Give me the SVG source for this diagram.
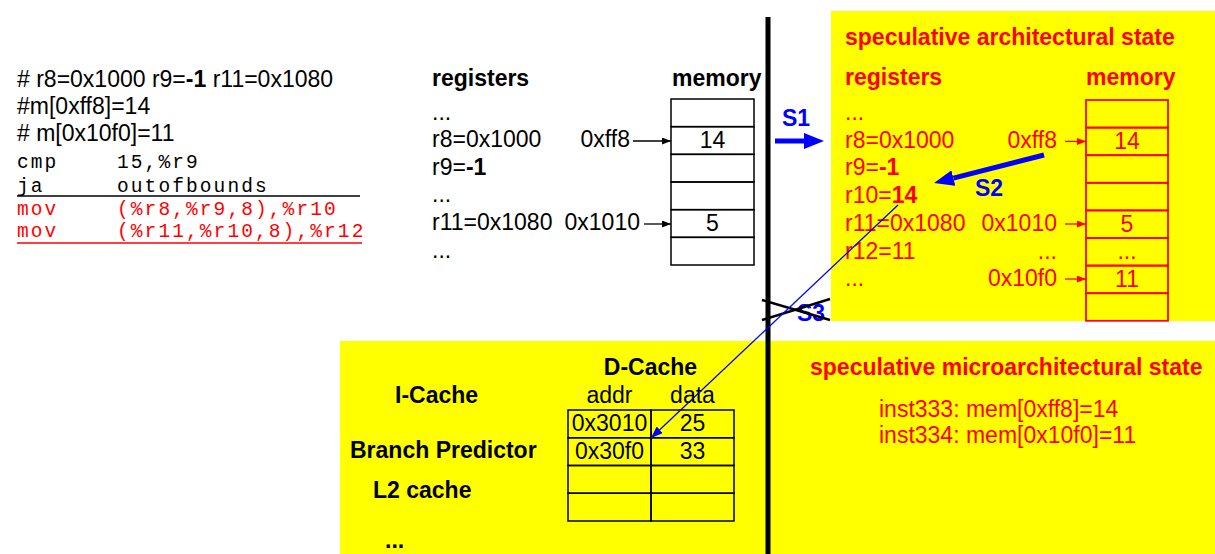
<svg xmlns="http://www.w3.org/2000/svg" width="1215" height="554" viewBox="0 0 1215 554">
<style>
text{font-family:"Liberation Sans",Arial,sans-serif;font-size:23px;fill:#000}
.b{font-weight:bold}
.r{fill:#ff0000}
.bl{fill:#0000ff;font-weight:bold}
.m{font-family:"Liberation Mono","Courier New",monospace;font-size:19.5px;letter-spacing:2.1px}
.c{text-anchor:middle}
.e{text-anchor:end}
.cellk{fill:none;stroke:#000;stroke-width:1.5}
.cellr{fill:none;stroke:#ff0000;stroke-width:1.8}
.ak{stroke:#000;stroke-width:1.3;fill:none}
.ar{stroke:#ff0000;stroke-width:1.3;fill:none}
</style>
<defs>
<marker id="hk" markerUnits="userSpaceOnUse" markerWidth="9" markerHeight="7" refX="9" refY="3.5" orient="auto"><path d="M0,0L9,3.5L0,7z" fill="#000"/></marker>
<marker id="hr" markerUnits="userSpaceOnUse" markerWidth="9" markerHeight="7" refX="9" refY="3.5" orient="auto"><path d="M0,0L9,3.5L0,7z" fill="#ff0000"/></marker>
<marker id="hb" markerUnits="userSpaceOnUse" markerWidth="20" markerHeight="16" refX="0" refY="8" orient="auto"><path d="M0,0L20,8L0,16z" fill="#0000ff"/></marker>
<marker id="hs" markerUnits="userSpaceOnUse" markerWidth="12" markerHeight="9" refX="12" refY="4.5" orient="auto"><path d="M0,0L12,4.5L0,9z" fill="#0000ff"/></marker>
</defs>
<rect width="1215" height="554" fill="#fff"/>
<rect id="bg-arch" x="831" y="11" width="384" height="310" fill="#ffff00"/>
<rect id="bg-micro" x="340" y="341" width="875" height="213" fill="#ffff00"/>

<g id="code">
<text x="17" y="87"># r8=0x1000 r9=<tspan class="b">-1</tspan> r11=0x1080</text>
<text x="17" y="114">#m[0xff8]=14</text>
<text x="17" y="141"># m[0x10f0]=11</text>
<text class="m" x="17" y="168">cmp</text><text class="m" x="117" y="168">15,%r9</text>
<text class="m" x="17" y="192">ja</text><text class="m" x="117" y="192">outofbounds</text>
<line x1="17" y1="196" x2="360" y2="196" stroke="#000" stroke-width="1.5"/>
<text class="m r" x="17" y="215">mov</text><text class="m r" x="117" y="215">(%r8,%r9,8),%r10</text>
<text class="m r" x="17" y="237">mov</text><text class="m r" x="117" y="237">(%r11,%r10,8),%r12</text>
<line x1="17" y1="243" x2="362" y2="243" stroke="#ff0000" stroke-width="1.5"/>
</g>

<g id="arch-state">
<text class="b" x="432" y="86">registers</text>
<text class="b" x="672" y="86">memory</text>
<text x="432" y="120">...</text>
<text x="432" y="147">r8=0x1000</text>
<text x="432" y="175">r9=<tspan class="b">-1</tspan></text>
<text x="432" y="202">...</text>
<text x="432" y="230">r11=0x1080</text>
<text x="432" y="258">...</text>
<text class="e" x="630" y="147">0xff8</text>
<text class="e" x="640" y="230">0x1010</text>
<rect class="cellk" x="671" y="99" width="83" height="27.67"/>
<rect class="cellk" x="671" y="126.67" width="83" height="27.67"/>
<rect class="cellk" x="671" y="154.33" width="83" height="27.67"/>
<rect class="cellk" x="671" y="182" width="83" height="27.67"/>
<rect class="cellk" x="671" y="209.67" width="83" height="27.67"/>
<rect class="cellk" x="671" y="237.33" width="83" height="27.67"/>
<text class="c" x="712.5" y="148">14</text>
<text class="c" x="712.5" y="231">5</text>
</g>

<g id="spec-arch-state">
<text class="b r" x="845" y="45">speculative architectural state</text>
<text class="b r" x="845" y="85">registers</text>
<text class="b r" x="1086" y="85">memory</text>
<text class="r" x="845" y="120">...</text>
<text class="r" x="845" y="148">r8=0x1000</text>
<text class="r" x="845" y="175">r9=<tspan class="b">-1</tspan></text>
<text class="r" x="845" y="203">r10=<tspan class="b">14</tspan></text>
<text class="r" x="845" y="231">r11=0x1080</text>
<text class="r" x="845" y="259">r12=11</text>
<text class="r" x="845" y="286">...</text>
<text class="r e" x="1057" y="148">0xff8</text>
<text class="r e" x="1057" y="231">0x1010</text>
<text class="r e" x="1057" y="259">...</text>
<text class="r e" x="1057" y="286">0x10f0</text>
<rect class="cellr" x="1086" y="100" width="82" height="27.6"/>
<rect class="cellr" x="1086" y="127.6" width="82" height="27.6"/>
<rect class="cellr" x="1086" y="155.2" width="82" height="27.6"/>
<rect class="cellr" x="1086" y="182.8" width="82" height="27.6"/>
<rect class="cellr" x="1086" y="210.4" width="82" height="27.6"/>
<rect class="cellr" x="1086" y="238" width="82" height="27.6"/>
<rect class="cellr" x="1086" y="265.6" width="82" height="27.6"/>
<rect class="cellr" x="1086" y="293.2" width="82" height="27.6"/>
<text class="r c" x="1127" y="149">14</text>
<text class="r c" x="1127" y="232">5</text>
<text class="r c" x="1127" y="259">...</text>
<text class="r c" x="1127" y="287">11</text>
</g>

<g id="cache-state">
<text class="b c" x="650.5" y="375">D-Cache</text>
<text class="c" x="609.5" y="403">addr</text>
<text class="c" x="692.5" y="403">data</text>
<rect class="cellk" x="568" y="410" width="83" height="27.75"/>
<rect class="cellk" x="651" y="410" width="83" height="27.75"/>
<rect class="cellk" x="568" y="437.75" width="83" height="27.75"/>
<rect class="cellk" x="651" y="437.75" width="83" height="27.75"/>
<rect class="cellk" x="568" y="465.5" width="83" height="27.75"/>
<rect class="cellk" x="651" y="465.5" width="83" height="27.75"/>
<rect class="cellk" x="568" y="493.25" width="83" height="27.75"/>
<rect class="cellk" x="651" y="493.25" width="83" height="27.75"/>
<text class="c" x="609.5" y="431">0x3010</text>
<text class="c" x="692.5" y="431">25</text>
<text class="c" x="609.5" y="459">0x30f0</text>
<text class="c" x="692.5" y="459">33</text>
<text class="b" x="395" y="403">I-Cache</text>
<text class="b" x="350" y="458">Branch Predictor</text>
<text class="b" x="373" y="498">L2 cache</text>
<text class="b" x="385" y="548">...</text>
</g>

<g id="spec-micro-state">
<text class="b r" x="810" y="375">speculative microarchitectural state</text>
<text class="r" x="879" y="417">inst333: mem[0xff8]=14</text>
<text class="r" x="879" y="443">inst334: mem[0x10f0]=11</text>
</g>

<g id="divider">
<line x1="768" y1="17" x2="768" y2="554" stroke="#000" stroke-width="5"/>
</g>

<g id="connectors">
<line class="ak" x1="633" y1="141" x2="671" y2="141" marker-end="url(#hk)"/>
<line class="ak" x1="644" y1="224" x2="671" y2="224" marker-end="url(#hk)"/>
<line class="ar" x1="1065" y1="141.4" x2="1086" y2="141.4" marker-end="url(#hr)"/>
<line class="ar" x1="1065" y1="224" x2="1086" y2="224" marker-end="url(#hr)"/>
<line class="ar" x1="1065" y1="279" x2="1086" y2="279" marker-end="url(#hr)"/>
<text class="bl" x="782" y="126">S1</text>
<line x1="775" y1="141" x2="804" y2="141" stroke="#0000ff" stroke-width="5" marker-end="url(#hb)"/>
<text class="bl" x="975" y="196">S2</text>
<line x1="1044" y1="155" x2="953.4" y2="178.1" stroke="#0000ff" stroke-width="5" marker-end="url(#hb)"/>
<text class="bl" x="797" y="321">S3</text>
<line x1="762" y1="300" x2="830" y2="320" stroke="#000" stroke-width="2.5"/>
<line x1="762" y1="320" x2="830" y2="299" stroke="#000" stroke-width="2.5"/>
<line x1="898" y1="205" x2="651" y2="438" stroke="#0000ff" stroke-width="1.3" marker-end="url(#hs)"/>
</g>
</svg>
